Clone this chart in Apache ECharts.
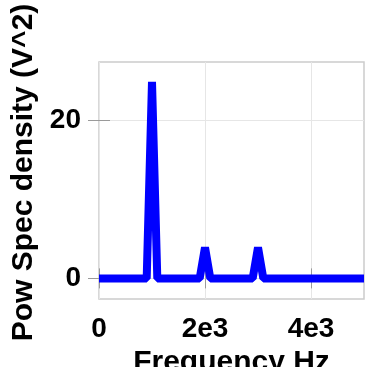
<!DOCTYPE html>
<html>
<head>
<meta charset="utf-8">
<script src="https://cdn.jsdelivr.net/npm/echarts@6/dist/echarts.min.js"></script>
<style>
  html, body { margin: 0; padding: 0; background: #ffffff; }
  #chart { width: 372px; height: 367px; }
</style>
</head>
<body>
<div id="chart"></div>
<script>
"use strict";

// frequency bins (Hz) and power spectral density (V^2)
var freqs = [0, 100, 200, 300, 400, 500, 600, 700, 800, 900,
  1000, 1100, 1200, 1300, 1400, 1500, 1600, 1700, 1800, 1900,
  2000, 2100, 2200, 2300, 2400, 2500, 2600, 2700, 2800, 2900,
  3000, 3100, 3200, 3300, 3400, 3500, 3600, 3700, 3800, 3900,
  4000, 4100, 4200, 4300, 4400, 4500, 4600, 4700, 4800, 4900, 5000];
var psd = [0, 0, 0, 0, 0, 0, 0, 0, 0, 0,
  24.8, 0, 0, 0, 0, 0, 0, 0, 0, 0,
  3.9, 0, 0, 0, 0, 0, 0, 0, 0, 0,
  3.9, 0, 0, 0, 0, 0, 0, 0, 0, 0,
  0, 0, 0, 0, 0, 0, 0, 0, 0, 0, 0];

var xTicks = [0, 2000, 4000];
var xTickLabels = ['0', '2e3', '4e3'];
var yTicks = [0, 20];
var yTickLabels = ['0', '20'];

var chart = echarts.init(document.getElementById('chart'));

var font = "'Liberation Sans', Arial, sans-serif";
var tickColor = '#9a9a9a';

var points = freqs.map(function (f, i) { return [f, psd[i]]; });

function xLabel(v) {
  var i = xTicks.indexOf(v);
  return i >= 0 ? xTickLabels[i] : '';
}
function yLabel(v) {
  var i = yTicks.indexOf(v);
  return i >= 0 ? yTickLabels[i] : '';
}

var option = {
  backgroundColor: '#ffffff',
  animation: false,
  grid: {
    left: 99,
    right: 8,
    top: 62,
    bottom: 68,
    outerBoundsMode: 'none',
    containLabel: false,
    show: true,
    borderColor: '#cccccc',
    borderWidth: 1.5
  },
  xAxis: [{
    type: 'value',
    min: 0,
    max: 5000,
    axisLine: { show: false },
    axisTick: { show: true, customValues: xTicks, length: 10, lineStyle: { color: tickColor } },
    axisLabel: {
      customValues: xTicks,
      formatter: xLabel,
      margin: 16,
      color: '#000',
      fontFamily: font,
      fontWeight: 'bold',
      fontSize: 28
    },
    splitLine: { show: true, lineStyle: { color: '#e6e6e6', width: 1 } },
    name: 'Frequency Hz',
    nameLocation: 'middle',
    nameGap: 47,
    nameTextStyle: { color: '#000', fontFamily: font, fontWeight: 'bold', fontSize: 30 }
  }, {
    type: 'value',
    min: 0,
    max: 5000,
    position: 'bottom',
    axisLine: { show: false },
    axisTick: { show: true, inside: true, customValues: xTicks, length: 10, lineStyle: { color: tickColor } },
    axisLabel: { show: false },
    splitLine: { show: false }
  }],
  yAxis: [{
    type: 'value',
    min: -2.6,
    max: 27.3,
    axisLine: { show: false },
    axisTick: { show: true, customValues: yTicks, length: 11, lineStyle: { color: tickColor } },
    axisLabel: {
      customValues: yTicks,
      formatter: yLabel,
      margin: 18,
      color: '#000',
      fontFamily: font,
      fontWeight: 'bold',
      fontSize: 28
    },
    splitLine: { show: true, lineStyle: { color: '#e6e6e6', width: 1 } },
    name: 'Pow Spec density (V^2)',
    nameLocation: 'middle',
    nameGap: 54,
    nameTextStyle: { color: '#000', fontFamily: font, fontWeight: 'bold', fontSize: 30, padding: [0, 0, 0, 16] }
  }, {
    type: 'value',
    min: -2.6,
    max: 27.3,
    position: 'left',
    axisLine: { show: false },
    axisTick: { show: true, inside: true, customValues: yTicks, length: 11, lineStyle: { color: tickColor } },
    axisLabel: { show: false },
    splitLine: { show: false }
  }],
  series: [{
    name: 'PSD',
    type: 'line',
    data: points,
    showSymbol: false,
    symbol: 'none',
    lineStyle: { color: '#0000ff', width: 8 },
    itemStyle: { color: '#0000ff' }
  }]
};

chart.setOption(option);
</script>
</body>
</html>
